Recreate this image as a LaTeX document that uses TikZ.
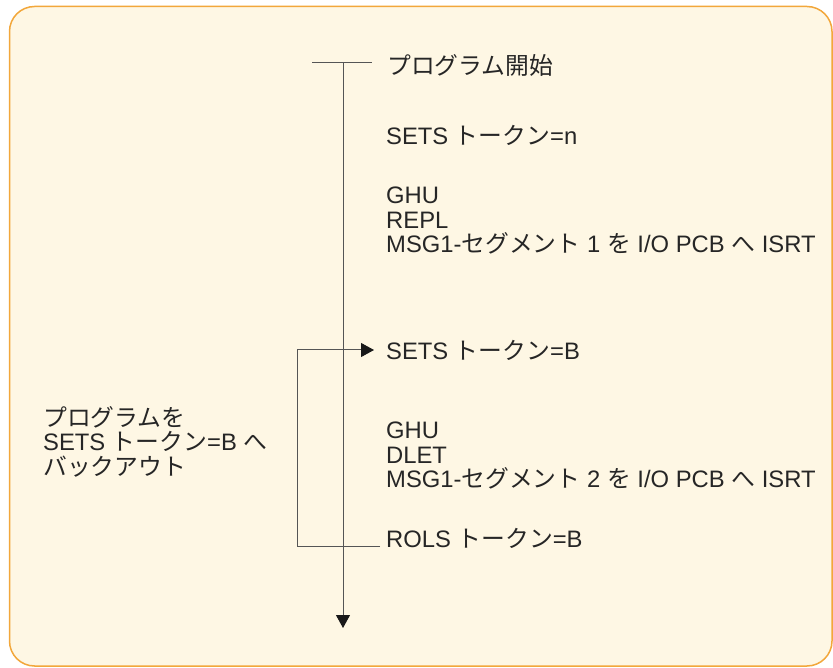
\documentclass[tikz,border=0pt]{standalone}
\usepackage{fontspec}
\setmainfont{Liberation Sans}
\newfontfamily\jpfont{Noto Sans CJK JP}
\newcommand{\jp}[1]{{\jpfont #1}}
\usetikzlibrary{arrows.meta}
\definecolor{boxfill}{HTML}{FEF7E4}
\definecolor{boxline}{HTML}{F2A73B}
\definecolor{lnc}{HTML}{555555}
\begin{document}
\begin{tikzpicture}[x=1pt,y=-1pt,
  lbl/.style={anchor=west,inner sep=0pt,font=\fontsize{23.8}{24.2}\selectfont,text=black!85,align=left},
  ln/.style={draw=lnc,line width=1pt},
  tip/.style={-{Triangle[length=13pt,width=14pt,color=black!90]}}]
\useasboundingbox (0,0) rectangle (833,668);
\draw[boxline,fill=boxfill,line width=1.5pt,rounded corners=25pt] (9.5,6.5) rectangle (832,666);
\node[lbl] (start) at (387,65) {\jp{プログラム開始}};
\node[lbl] (setn) at (386,135) {SETS \jp{トークン}=n};
\node[lbl,anchor=north west] (blk1) at (386,187) {GHU\\REPL\\MSG1-\jp{セグメント} 1 \jp{を} I/O PCB \jp{へ} ISRT};
\node[lbl] (setb) at (386,350) {SETS \jp{トークン}=B};
\node[lbl,anchor=north west] (blk2) at (386,422) {GHU\\DLET\\MSG1-\jp{セグメント} 2 \jp{を} I/O PCB \jp{へ} ISRT};
\node[lbl] (rols) at (386,538) {ROLS \jp{トークン}=B};
\node[lbl,anchor=north west] (note) at (43,406.5) {\jp{プログラムを}\\SETS \jp{トークン}=B \jp{へ}\\\jp{バックアウト}};
\coordinate (top) at (343,63);
\coordinate (bot) at (343,628);
\coordinate (tl) at (312,63);
\coordinate (tr) at (372,63);
\coordinate (rl) at (380,546);
\coordinate (lb) at (297,546);
\coordinate (lt) at (297,350);
\coordinate (arr) at (374,350);
\draw[ln] (tl) -- (tr);
\draw[ln,tip] (top) -- (bot);
\draw[ln,tip] (rl) -- (lb) -- (lt) -- (arr);
\end{tikzpicture}
\end{document}
